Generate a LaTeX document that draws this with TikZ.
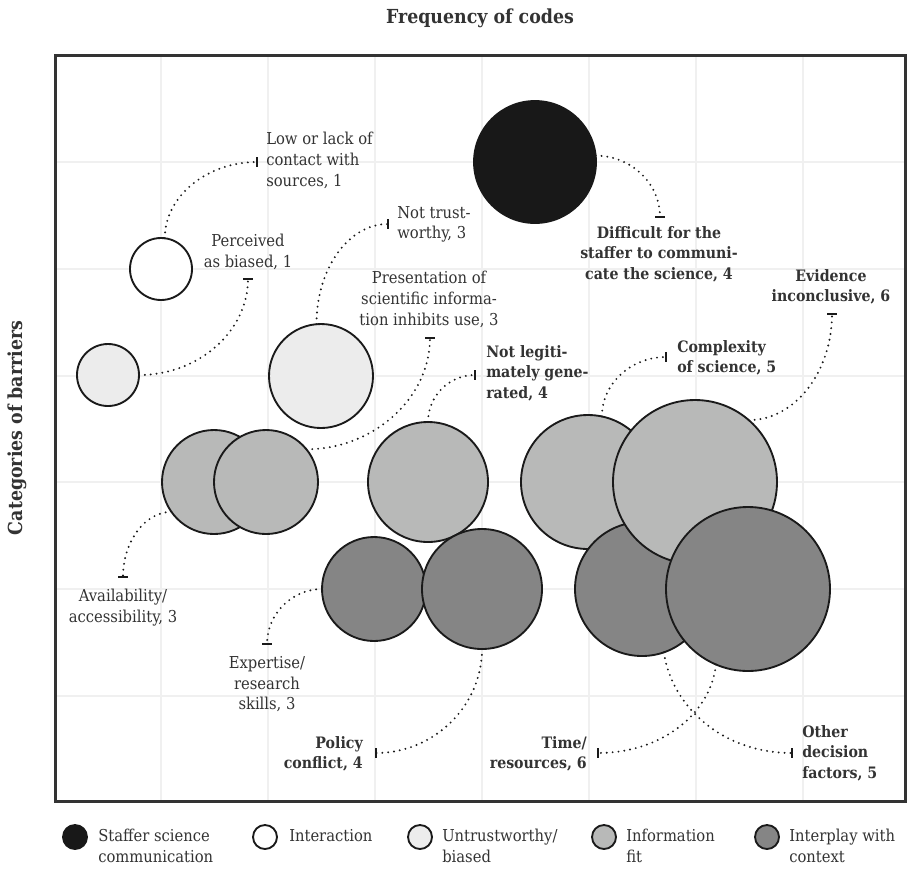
\documentclass[tikz,border=0pt]{standalone}
\usepackage{fontspec}
\setmainfont{DejaVu Serif Condensed}
\definecolor{txt}{HTML}{333333}
\definecolor{gridc}{HTML}{F0F0F0}
\definecolor{framec}{HTML}{333333}
\definecolor{cblack}{HTML}{181818}
\definecolor{cuntr}{HTML}{ECECEC}
\definecolor{cinfo}{HTML}{B8B9B8}
\definecolor{cctx}{HTML}{858585}
\definecolor{edgec}{HTML}{1A1A1A}
\newcommand\lfont{\fontsize{12.3}{15.5}\selectfont}
\newcommand\bfont{\fontsize{11.8}{15.5}\selectfont\bfseries}
\newcommand\tfont{\fontsize{14.5}{17}\selectfont\bfseries}
\begin{document}
\begin{tikzpicture}[x=0.75pt,y=-0.75pt,
  bub/.style={circle, draw=edgec, line width=1.4pt, inner sep=0pt, outer sep=0pt},
  lead/.style={draw=edgec, line width=1.6pt, dash pattern=on 0pt off 4.4pt, line cap=round},
  tk/.style={draw=edgec, line width=1.7pt},
  lab/.style={text=txt, inner sep=0pt, font=\lfont},
  blab/.style={text=txt, inner sep=0pt, font=\bfont},
  leg/.style={circle, draw=edgec, line width=1.4pt, inner sep=0pt, minimum size=18pt}
]
\useasboundingbox (0,0) rectangle (907,869);
% grid
\foreach \gx in {161,268,375,482,589,696,803} \draw[gridc, line width=1.5pt] (\gx,55) -- (\gx,801);
\foreach \gy in {162,269,376,482,589,696} \draw[gridc, line width=1.5pt] (55,\gy) -- (905,\gy);
\draw[framec, line width=2.25pt] (55,55) rectangle (905,801);
% titles
\node[text=txt, inner sep=0pt, font=\tfont, anchor=north] (title) at (480,9) {Frequency of codes};
\node[text=txt, inner sep=0pt, font=\tfont, rotate=90] (ylab) at (17,428) {Categories of barriers};
% bubbles
\node[bub, fill=white, minimum size=46.5pt] (w1) at (161,269) {};
\node[bub, fill=cuntr, minimum size=46.5pt] (u1) at (108,375) {};
\node[bub, fill=cuntr, minimum size=78pt] (u2) at (321,376) {};
\node[bub, fill=cinfo, minimum size=78pt] (i1) at (214,482) {};
\node[bub, fill=cinfo, minimum size=78pt] (i2) at (266,482) {};
\node[bub, fill=cctx, minimum size=78pt] (d1) at (374,589) {};
\node[bub, fill=cinfo, minimum size=90pt] (i3) at (428,482) {};
\node[bub, fill=cctx, minimum size=90pt] (d2) at (482,589) {};
\node[bub, draw=cblack, fill=cblack, minimum size=91.5pt] (b) at (535,162) {};
\node[bub, fill=cinfo, minimum size=100.5pt] (i4) at (588,482) {};
\node[bub, fill=cctx, minimum size=100.5pt] (d3) at (642,589) {};
\node[bub, fill=cinfo, minimum size=123pt] (i5) at (695,482) {};
\node[bub, fill=cctx, minimum size=123pt] (d4) at (748,589) {};
% tick coordinates
\coordinate (t1) at (257,162);
\coordinate (t2) at (248,279);
\coordinate (t3) at (388,224);
\coordinate (t4) at (430,338);
\coordinate (t5) at (475,375);
\coordinate (t6) at (660,217);
\coordinate (t7) at (666,357);
\coordinate (t8) at (832,314);
\coordinate (t9) at (123,577);
\coordinate (t10) at (267,644);
\coordinate (t11) at (376,753);
\coordinate (t12) at (598,753);
\coordinate (t13) at (792,753);
% leaders
\draw[lead] (w1.83) .. controls +(0,-42) and +(-50,0) .. (t1);
\draw[lead] (u1.0) .. controls +(60,0) and +(0,52) .. (t2);
\draw[lead] (u2.95) .. controls +(0,-55) and +(-40,0) .. (t3);
\draw[lead] (i2.39) .. controls +(67,0) and +(0,60) .. (t4);
\draw[lead] (i3.90) .. controls +(0,-26) and +(-26,0) .. (t5);
\draw[lead] (b.6) .. controls +(35,0) and +(0,-34) .. (t6);
\draw[lead] (i4.78) .. controls +(0,-33) and +(-35,0) .. (t7);
\draw[lead] (i5.49) .. controls +(46,0) and +(0,58) .. (t8);
\draw[lead] (i1.215) .. controls +(-26,0) and +(0,-36) .. (t9);
\draw[lead] (d1.180) .. controls +(-30,0) and +(0,-30) .. (t10);
\draw[lead] (d2.270) .. controls +(0,57) and +(58,0) .. (t11);
\draw[lead] (d4.247) .. controls +(-5,48) and +(65,0) .. (t12);
\draw[lead] (d3.289) .. controls +(8,54) and +(-70,0) .. (t13);
% ticks
\foreach \t in {t1,t3,t5,t7,t11,t12,t13} \draw[tk] (\t) ++(0,-5) -- ++(0,10);
\foreach \t in {t2,t4,t6,t8,t9,t10} \draw[tk] (\t) ++(-5,0) -- ++(10,0);
% labels
\node[lab, align=left, anchor=north west] (l1) at (266,132) {Low or lack of\\contact with\\sources, 1};
\node[lab, align=center, anchor=north] (l2) at (248,234) {Perceived\\as biased, 1};
\node[lab, align=left, anchor=north west] (l3) at (397,206) {Not trust-\\worthy, 3};
\node[lab, align=center, anchor=north] (l4) at (429,271) {Presentation of\\scientific informa-\\tion inhibits use, 3};
\node[blab, align=left, anchor=north west] (l5) at (486,345) {Not legiti-\\mately gene-\\rated, 4};
\node[blab, align=center, anchor=north] (l6) at (659,226) {Difficult for the\\staffer to communi-\\cate the science, 4};
\node[blab, align=left, anchor=north west] (l7) at (677,340) {Complexity\\of science, 5};
\node[blab, align=center, anchor=north] (l8) at (831,269) {Evidence\\inconclusive, 6};
\node[lab, align=center, anchor=north] (l9) at (123,589) {Availability/\\accessibility, 3};
\node[lab, align=center, anchor=north] (l10) at (267,656) {Expertise/\\research\\skills, 3};
\node[blab, align=right, anchor=north east] (l11) at (363,736) {Policy\\conflict, 4};
\node[blab, align=right, anchor=north east] (l12) at (587,736) {Time/\\resources, 6};
\node[blab, align=left, anchor=north west] (l13) at (802,725) {Other\\decision\\factors, 5};
% legend
\node[leg, draw=cblack, fill=cblack] (k1) at (75,837) {};
\node[lab, align=left, anchor=north west] (k1t) at (98,829) {Staffer science\\communication};
\node[leg, fill=white] (k2) at (265,837) {};
\node[lab, align=left, anchor=north west] (k2t) at (289,829) {Interaction};
\node[leg, fill=cuntr] (k3) at (420,837) {};
\node[lab, align=left, anchor=north west] (k3t) at (442,829) {Untrustworthy/\\biased};
\node[leg, fill=cinfo] (k4) at (604,837) {};
\node[lab, align=left, anchor=north west] (k4t) at (626,829) {Information\\fit};
\node[leg, fill=cctx] (k5) at (767,837) {};
\node[lab, align=left, anchor=north west] (k5t) at (789,829) {Interplay with\\context};
\end{tikzpicture}
\end{document}
